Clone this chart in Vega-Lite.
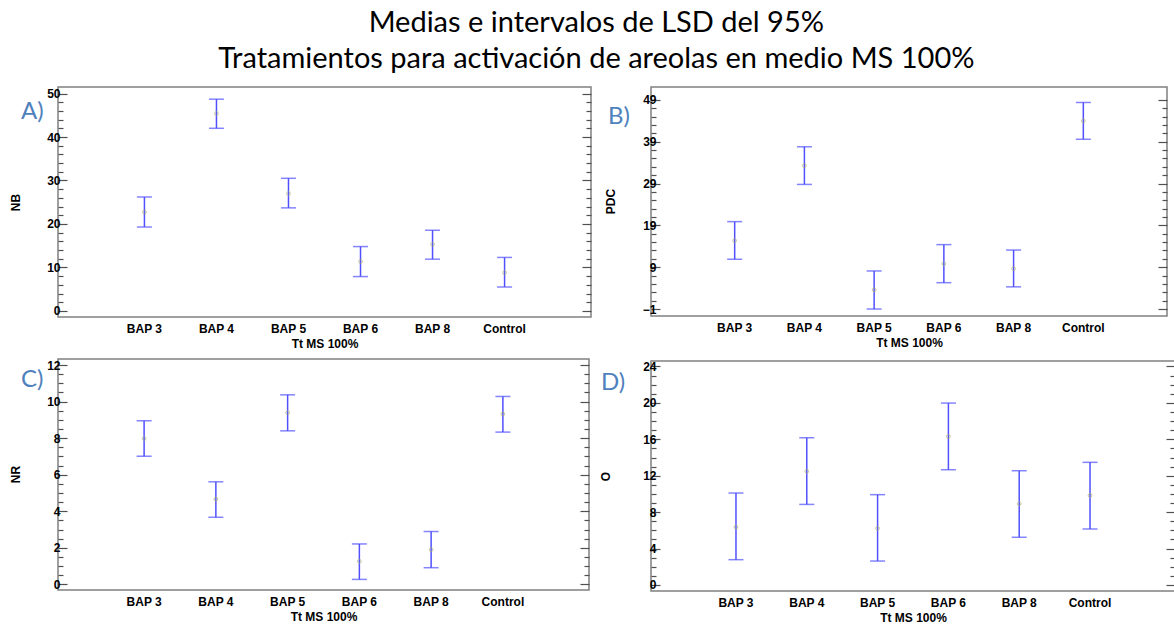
{
  "$schema": "https://vega.github.io/schema/vega-lite/v6.json",
  "autosize": {"type": "pad"},
  "padding": {"left": 8, "top": 9, "right": 0, "bottom": 0},
  "background": "white",
  "title": {
    "text": ["Medias e intervalos de LSD del 95%", "Tratamientos para activación de areolas en medio MS 100%"],
    "font": "Lato", "fontSize": 29, "fontWeight": "normal", "color": "black",
    "lineHeight": 36, "anchor": "middle", "frame": "bounds", "offset": 12, "dx": 4
  },
  "data": {"values": [
    {"v": "NB", "trt": "BAP 3", "mean": 22.7, "lo": 19.3, "hi": 26.2},
    {"v": "NB", "trt": "BAP 4", "mean": 45.4, "lo": 42.0, "hi": 48.7},
    {"v": "NB", "trt": "BAP 5", "mean": 27.0, "lo": 23.7, "hi": 30.5},
    {"v": "NB", "trt": "BAP 6", "mean": 11.35, "lo": 7.9, "hi": 14.8},
    {"v": "NB", "trt": "BAP 8", "mean": 15.3, "lo": 11.9, "hi": 18.55},
    {"v": "NB", "trt": "Control", "mean": 8.8, "lo": 5.5, "hi": 12.3},
    {"v": "PDC", "trt": "BAP 3", "mean": 15.35, "lo": 10.9, "hi": 19.9},
    {"v": "PDC", "trt": "BAP 4", "mean": 33.3, "lo": 28.8, "hi": 37.8},
    {"v": "PDC", "trt": "BAP 5", "mean": 3.6, "lo": -1.0, "hi": 8.1},
    {"v": "PDC", "trt": "BAP 6", "mean": 9.85, "lo": 5.3, "hi": 14.4},
    {"v": "PDC", "trt": "BAP 8", "mean": 8.65, "lo": 4.3, "hi": 13.1},
    {"v": "PDC", "trt": "Control", "mean": 44.0, "lo": 39.6, "hi": 48.4},
    {"v": "NR", "trt": "BAP 3", "mean": 7.98, "lo": 7.01, "hi": 8.95},
    {"v": "NR", "trt": "BAP 4", "mean": 4.66, "lo": 3.67, "hi": 5.61},
    {"v": "NR", "trt": "BAP 5", "mean": 9.39, "lo": 8.40, "hi": 10.37},
    {"v": "NR", "trt": "BAP 6", "mean": 1.26, "lo": 0.27, "hi": 2.21},
    {"v": "NR", "trt": "BAP 8", "mean": 1.90, "lo": 0.91, "hi": 2.89},
    {"v": "NR", "trt": "Control", "mean": 9.32, "lo": 8.33, "hi": 10.28},
    {"v": "O", "trt": "BAP 3", "mean": 6.37, "lo": 2.78, "hi": 10.1},
    {"v": "O", "trt": "BAP 4", "mean": 12.48, "lo": 8.85, "hi": 16.17},
    {"v": "O", "trt": "BAP 5", "mean": 6.22, "lo": 2.63, "hi": 9.92},
    {"v": "O", "trt": "BAP 6", "mean": 16.32, "lo": 12.66, "hi": 19.98},
    {"v": "O", "trt": "BAP 8", "mean": 8.93, "lo": 5.24, "hi": 12.55},
    {"v": "O", "trt": "Control", "mean": 9.84, "lo": 6.15, "hi": 13.47}
  ]},
  "config": {
    "view": {"stroke": "#808080", "strokeWidth": 1.5},
    "axis": {
      "domain": false, "grid": false,
      "labelFont": "Liberation Sans", "labelFontWeight": "bold", "labelFontSize": 12, "labelColor": "black",
      "titleFont": "Liberation Sans", "titleFontWeight": "bold", "titleFontSize": 12, "titleColor": "black",
      "tickColor": "#505050", "tickWidth": 1.2, "labelOverlap": false, "labelFlush": false
    },
    "axisX": {"ticks": false, "labelPadding": 6, "titlePadding": 4, "labelAngle": 0},
    "title": {"font": "Lato", "fontSize": 24, "fontWeight": "normal", "color": "#4f81bd", "anchor": "start", "frame": "group"}
  },
  "spacing": 5,
  "hconcat": [
    {
      "spacing": 8,
      "vconcat": [
        {
          "width": 533, "height": 230,
          "title": {"text": "A)", "offset": -37, "dx": -37},
          "transform": [{"filter": "datum.v === 'NB'"}],
          "encoding": {"x": {"field": "trt", "type": "nominal", "sort": null, "scale": {"type": "band", "paddingInner": 0.6, "paddingOuter": 1}, "axis": {"title": "Tt MS 100%"}}},
          "layer": [
            {"mark": {"type": "rule", "color": "#5050ff", "strokeWidth": 1.5},
             "encoding": {"y": {"field": "lo", "type": "quantitative", "scale": {"domain": [-1.4, 51.5], "nice": false, "zero": false},
               "axis": {"title": "NB", "titleX": -43, "titleY": 115, "titleBaseline": "middle", "titleAlign": "center", "titleAngle": 270, "labelPadding": 7, "values": [0,2,4,6,8,10,12,14,16,18,20,22,24,26,28,30,32,34,36,38,40,42,44,46,48,50],
                 "labelExpr": "datum.value % 10 === 0 ? format(datum.value, 'd') : ''",
                 "tickSize": {"condition": {"test": "datum.value % 10 === 0", "value": -9}, "value": -5}}},
               "y2": {"field": "hi"}}},
            {"mark": {"type": "tick", "color": "#5050ff", "size": 15, "thickness": 1.5},
             "encoding": {"y": {"field": "lo", "type": "quantitative", "scale": {"domain": [-1.4, 51.5], "nice": false, "zero": false}, "axis": null}}},
            {"mark": {"type": "tick", "color": "#5050ff", "size": 15, "thickness": 1.5},
             "encoding": {"y": {"field": "hi", "type": "quantitative", "scale": {"domain": [-1.4, 51.5], "nice": false, "zero": false}, "axis": null}}},
            {"mark": {"type": "point", "shape": "circle", "size": 14, "color": "#b0b070", "filled": false, "strokeWidth": 1},
             "encoding": {"y": {"field": "mean", "type": "quantitative", "scale": {"domain": [-1.4, 51.5], "nice": false, "zero": false},
               "axis": {"orient": "right", "title": null, "labels": false, "values": [0,2,4,6,8,10,12,14,16,18,20,22,24,26,28,30,32,34,36,38,40,42,44,46,48,50],
                 "tickSize": {"condition": {"test": "datum.value % 10 === 0", "value": -9}, "value": -5}}}}}
          ],
          "resolve": {"axis": {"y": "independent"}}
        },
        {
          "width": 531, "height": 231,
          "title": {"text": "C)", "offset": -33, "dx": -37},
          "transform": [{"filter": "datum.v === 'NR'"}],
          "encoding": {"x": {"field": "trt", "type": "nominal", "sort": null, "scale": {"type": "band", "paddingInner": 0.6, "paddingOuter": 1}, "axis": {"title": "Tt MS 100%"}}},
          "layer": [
            {"mark": {"type": "rule", "color": "#5050ff", "strokeWidth": 1.5},
             "encoding": {"y": {"field": "lo", "type": "quantitative", "scale": {"domain": [-0.31, 12.33], "nice": false, "zero": false},
               "axis": {"title": "NR", "titleX": -43, "titleY": 115, "titleBaseline": "middle", "titleAlign": "center", "titleAngle": 270, "labelPadding": 7, "values": [0,0.5,1,1.5,2,2.5,3,3.5,4,4.5,5,5.5,6,6.5,7,7.5,8,8.5,9,9.5,10,10.5,11,11.5,12],
                 "labelExpr": "datum.value % 2 === 0 ? format(datum.value, 'd') : ''",
                 "tickSize": {"condition": {"test": "datum.value % 2 === 0", "value": -9}, "value": -5}}},
               "y2": {"field": "hi"}}},
            {"mark": {"type": "tick", "color": "#5050ff", "size": 15, "thickness": 1.5},
             "encoding": {"y": {"field": "lo", "type": "quantitative", "scale": {"domain": [-0.31, 12.33], "nice": false, "zero": false}, "axis": null}}},
            {"mark": {"type": "tick", "color": "#5050ff", "size": 15, "thickness": 1.5},
             "encoding": {"y": {"field": "hi", "type": "quantitative", "scale": {"domain": [-0.31, 12.33], "nice": false, "zero": false}, "axis": null}}},
            {"mark": {"type": "point", "shape": "circle", "size": 14, "color": "#b0b070", "filled": false, "strokeWidth": 1},
             "encoding": {"y": {"field": "mean", "type": "quantitative", "scale": {"domain": [-0.31, 12.33], "nice": false, "zero": false},
               "axis": {"orient": "right", "title": null, "labels": false, "values": [0,0.5,1,1.5,2,2.5,3,3.5,4,4.5,5,5.5,6,6.5,7,7.5,8,8.5,9,9.5,10,10.5,11,11.5,12],
                 "tickSize": {"condition": {"test": "datum.value % 2 === 0", "value": -9}, "value": -5}}}}}
          ],
          "resolve": {"axis": {"y": "independent"}}
        }
      ]
    },
    {
      "spacing": 10,
      "vconcat": [
        {
          "width": 516, "height": 229,
          "title": {"text": "B)", "offset": -42, "dx": -43},
          "transform": [{"filter": "datum.v === 'PDC'"}],
          "encoding": {"x": {"field": "trt", "type": "nominal", "sort": null, "scale": {"type": "band", "paddingInner": 0.6, "paddingOuter": 1}, "axis": {"title": "Tt MS 100%"}}},
          "layer": [
            {"mark": {"type": "rule", "color": "#5050ff", "strokeWidth": 1.5},
             "encoding": {"y": {"field": "lo", "type": "quantitative", "scale": {"domain": [-2.67, 52.1], "nice": false, "zero": false},
               "axis": {"title": "PDC", "titleX": -41, "titleY": 114, "titleBaseline": "middle", "titleAlign": "center", "titleAngle": 270, "labelPadding": 4, "values": [-1,1,3,5,7,9,11,13,15,17,19,21,23,25,27,29,31,33,35,37,39,41,43,45,47,49],
                 "labelExpr": "(datum.value + 1) % 10 === 0 ? format(datum.value, 'd') : ''",
                 "tickSize": {"condition": {"test": "(datum.value + 1) % 10 === 0", "value": -9}, "value": -5}}},
               "y2": {"field": "hi"}}},
            {"mark": {"type": "tick", "color": "#5050ff", "size": 15, "thickness": 1.5},
             "encoding": {"y": {"field": "lo", "type": "quantitative", "scale": {"domain": [-2.67, 52.1], "nice": false, "zero": false}, "axis": null}}},
            {"mark": {"type": "tick", "color": "#5050ff", "size": 15, "thickness": 1.5},
             "encoding": {"y": {"field": "hi", "type": "quantitative", "scale": {"domain": [-2.67, 52.1], "nice": false, "zero": false}, "axis": null}}},
            {"mark": {"type": "point", "shape": "circle", "size": 14, "color": "#b0b070", "filled": false, "strokeWidth": 1},
             "encoding": {"y": {"field": "mean", "type": "quantitative", "scale": {"domain": [-2.67, 52.1], "nice": false, "zero": false},
               "axis": {"orient": "right", "title": null, "labels": false, "values": [-1,1,3,5,7,9,11,13,15,17,19,21,23,25,27,29,31,33,35,37,39,41,43,45,47,49],
                 "tickSize": {"condition": {"test": "(datum.value + 1) % 10 === 0", "value": -9}, "value": -5}}}}}
          ],
          "resolve": {"axis": {"y": "independent"}}
        },
        {
          "width": 524, "height": 230,
          "title": {"text": "D)", "offset": -35, "dx": -50},
          "transform": [{"filter": "datum.v === 'O'"}],
          "encoding": {"x": {"field": "trt", "type": "nominal", "sort": null, "scale": {"type": "band", "paddingInner": 0.6, "paddingOuter": 1}, "axis": {"title": "Tt MS 100%"}}},
          "layer": [
            {"mark": {"type": "rule", "color": "#5050ff", "strokeWidth": 1.5},
             "encoding": {"y": {"field": "lo", "type": "quantitative", "scale": {"domain": [-0.66, 24.6], "nice": false, "zero": false},
               "axis": {"title": "O", "titleX": -46, "titleY": 115, "titleBaseline": "middle", "titleAlign": "center", "titleAngle": 270, "labelPadding": 4, "values": [0,1,2,3,4,5,6,7,8,9,10,11,12,13,14,15,16,17,18,19,20,21,22,23,24],
                 "labelExpr": "datum.value % 4 === 0 ? format(datum.value, 'd') : ''",
                 "tickSize": {"condition": {"test": "datum.value % 4 === 0", "value": -9}, "value": -5}}},
               "y2": {"field": "hi"}}},
            {"mark": {"type": "tick", "color": "#5050ff", "size": 15, "thickness": 1.5},
             "encoding": {"y": {"field": "lo", "type": "quantitative", "scale": {"domain": [-0.66, 24.6], "nice": false, "zero": false}, "axis": null}}},
            {"mark": {"type": "tick", "color": "#5050ff", "size": 15, "thickness": 1.5},
             "encoding": {"y": {"field": "hi", "type": "quantitative", "scale": {"domain": [-0.66, 24.6], "nice": false, "zero": false}, "axis": null}}},
            {"mark": {"type": "point", "shape": "circle", "size": 14, "color": "#b0b070", "filled": false, "strokeWidth": 1},
             "encoding": {"y": {"field": "mean", "type": "quantitative", "scale": {"domain": [-0.66, 24.6], "nice": false, "zero": false},
               "axis": {"orient": "right", "title": null, "labels": false, "values": [0,1,2,3,4,5,6,7,8,9,10,11,12,13,14,15,16,17,18,19,20,21,22,23,24],
                 "tickSize": {"condition": {"test": "datum.value % 4 === 0", "value": -9}, "value": -5}}}}}
          ],
          "resolve": {"axis": {"y": "independent"}}
        }
      ]
    }
  ]
}
